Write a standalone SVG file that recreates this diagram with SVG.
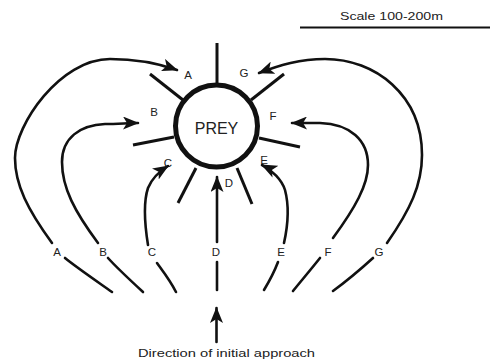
<svg xmlns="http://www.w3.org/2000/svg" width="490" height="361" viewBox="0 0 490 361">
<style>
.lbl{font-family:"Liberation Sans",Arial,sans-serif;font-size:11.5px;fill:#222;text-anchor:middle}
.crv{fill:none;stroke:#111;stroke-width:2.6;stroke-linecap:round}
.spk{stroke:#111;stroke-width:3;stroke-linecap:butt}
</style>
<defs>
<marker id="ah" markerUnits="userSpaceOnUse" markerWidth="16" markerHeight="13" viewBox="0 0 16 13" refX="15" refY="6.5" orient="auto">
<path d="M0,0 L16,6.5 L0,13 L4,6.5 z" fill="#111"/>
</marker>
</defs>
<g id="scale">
<line x1="300" y1="27.5" x2="490" y2="27.5" stroke="#111" stroke-width="2"/>
<text x="340" y="20" class="lbl" style="text-anchor:start;font-size:11px" textLength="103" lengthAdjust="spacingAndGlyphs">Scale 100-200m</text>
</g>
<g id="prey">
<line class="spk" x1="217" y1="43" x2="217" y2="84"/>
<line class="spk" x1="150" y1="74" x2="183" y2="100"/>
<line class="spk" x1="284" y1="74" x2="251" y2="100"/>
<line class="spk" x1="133" y1="145" x2="174" y2="137"/>
<line class="spk" x1="300" y1="147" x2="259" y2="138"/>
<line class="spk" x1="178" y1="203" x2="196" y2="168"/>
<line class="spk" x1="252" y1="204" x2="237" y2="168"/>
<circle cx="216.5" cy="126" r="41" fill="#fff" stroke="#111" stroke-width="5"/>
<text x="216.5" y="134" class="lbl" style="font-size:16px">PREY</text>
</g>
<g id="near-labels">
<text x="188" y="79" class="lbl">A</text>
<text x="244" y="77" class="lbl">G</text>
<text x="154" y="116" class="lbl">B</text>
<text x="273" y="120" class="lbl">F</text>
<text x="168" y="167" class="lbl">C</text>
<text x="264" y="164" class="lbl">E</text>
<text x="229" y="187" class="lbl">D</text>
</g>
<g id="connectors">
<path class="crv" d="M112,292 C95,280 76,267 65,258"/>
<path class="crv" marker-end="url(#ah)" d="M52,243 C28,210 15,185 15,158 C15,125 60,59 110,59 C140,59 160,64 177,70"/>
<path class="crv" d="M143,292 C130,280 117,268 108,258"/>
<path class="crv" marker-end="url(#ah)" d="M98,243 C75,212 62,188 62,162 C62,138 80,125 105,124 C118,124 128,123 138,123"/>
<path class="crv" d="M176,292 C170,280 162,270 157,263"/>
<path class="crv" marker-end="url(#ah)" d="M148,245 C144,220 144,200 148,188 C152,178 160,171 168,166"/>
<path class="crv" d="M217,290 L217,262"/>
<path class="crv" marker-end="url(#ah)" d="M217,242 L217,177"/>
<path class="crv" d="M264,290 C270,280 275,270 278,262"/>
<path class="crv" marker-end="url(#ah)" d="M284,243 C288,225 289,205 285,190 C282,180 272,170 262,165"/>
<path class="crv" d="M293,291 C302,280 312,268 320,258"/>
<path class="crv" marker-end="url(#ah)" d="M333,238 C355,208 368,185 368,165 C368,140 350,124 320,123 C305,123 298,123 292,123"/>
<path class="crv" d="M333,291 C348,280 362,268 373,258"/>
<path class="crv" marker-end="url(#ah)" d="M387,243 C410,210 422,185 422,155 C422,95 375,59 325,59 C300,59 280,65 259,73"/>
<path class="crv" marker-end="url(#ah)" d="M216.5,342 L216.5,308"/>
</g>
<g id="far-labels">
<text x="57" y="256" class="lbl">A</text>
<text x="103" y="256" class="lbl">B</text>
<text x="152" y="256" class="lbl">C</text>
<text x="216" y="256" class="lbl">D</text>
<text x="281" y="256" class="lbl">E</text>
<text x="328" y="256" class="lbl">F</text>
<text x="379" y="256" class="lbl">G</text>
</g>
<g id="caption">
<text x="138" y="357" class="lbl" style="text-anchor:start" textLength="177" lengthAdjust="spacingAndGlyphs">Direction of initial approach</text>
</g>
</svg>
